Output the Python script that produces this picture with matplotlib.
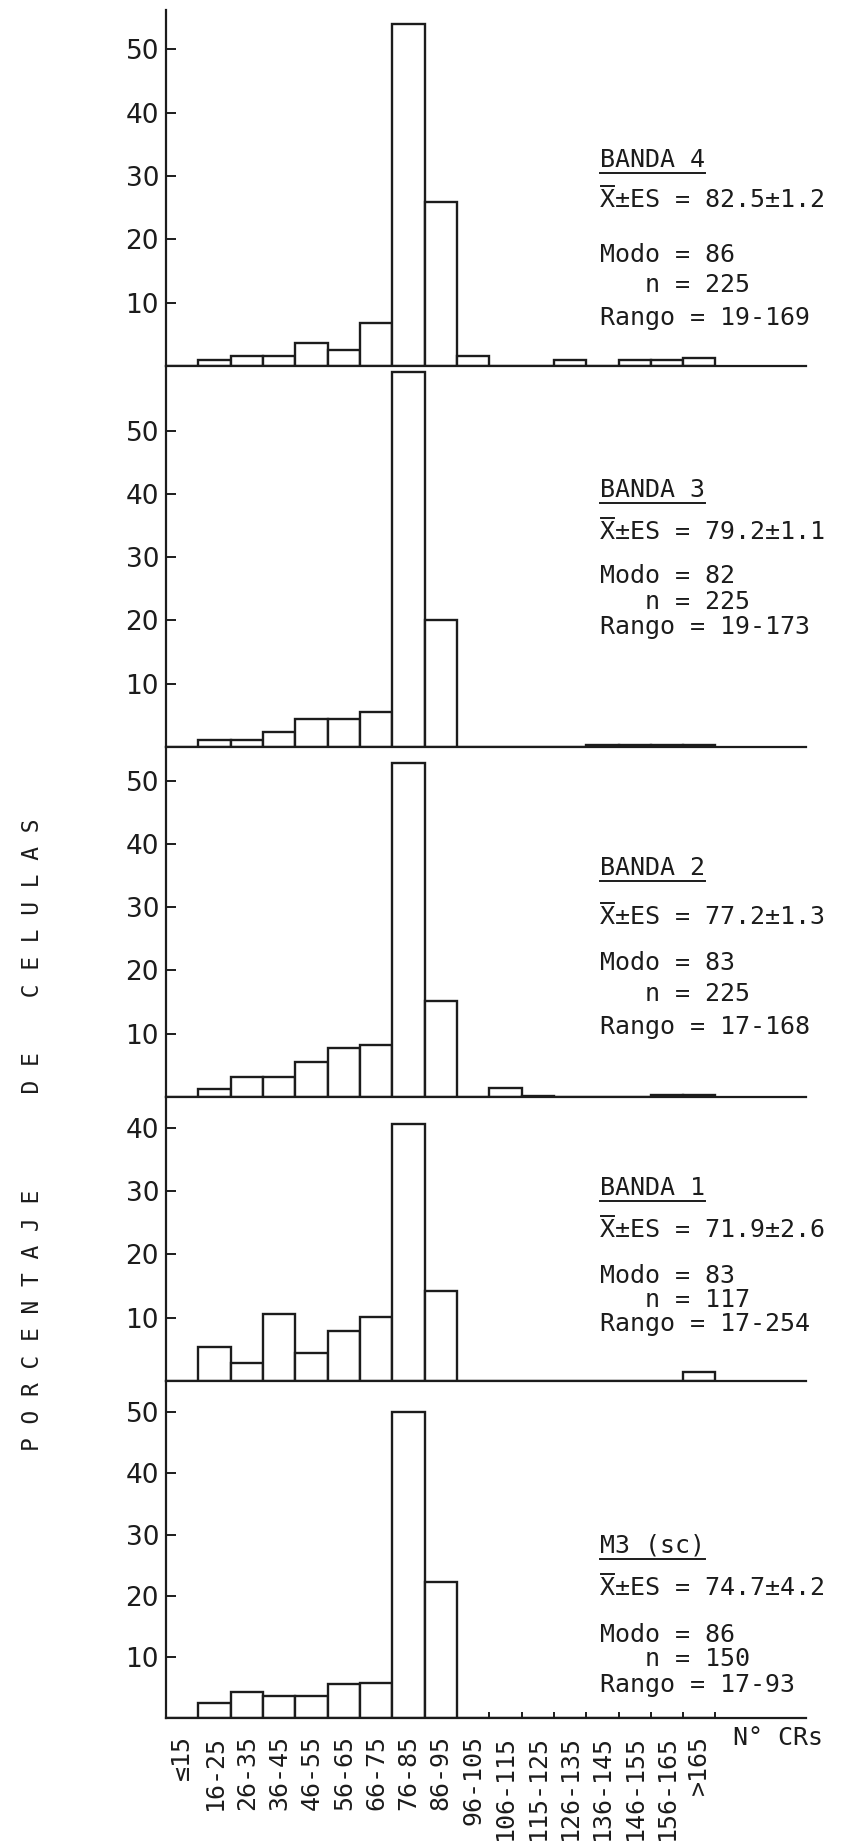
import matplotlib
matplotlib.use("Agg")
import matplotlib.pyplot as plt
from matplotlib.lines import Line2D

# class intervals (number of CRs per cell)
categories = ["≤15", "16-25", "26-35", "36-45", "46-55", "56-65", "66-75",
              "76-85", "86-95", "96-105", "106-115", "115-125", "126-135",
              "136-145", "146-155", "156-165", ">165"]

# percentage of cells per interval
banda4 = [0, 0.9, 1.6, 1.6, 3.7, 2.6, 6.8, 54.0, 25.9, 1.6, 0, 0, 0.9, 0, 0.9, 0.9, 1.3]
banda3 = [0, 1.1, 1.1, 2.3, 4.4, 4.4, 5.6, 59.3, 20.0, 0, 0, 0, 0, 0.3, 0.3, 0.3, 0.3]
banda2 = [0, 1.2, 3.2, 3.1, 5.5, 7.7, 8.2, 52.8, 15.2, 0, 1.4, 0.2, 0, 0, 0, 0.3, 0.3]
banda1 = [0, 5.4, 2.9, 10.6, 4.4, 7.9, 10.1, 40.7, 14.2, 0, 0, 0, 0, 0, 0, 0, 1.4]
m3 = [0, 2.5, 4.3, 3.6, 3.6, 5.6, 5.7, 50.0, 22.3, 0, 0, 0, 0, 0, 0, 0, 0]

names = ["BANDA 4", "BANDA 3", "BANDA 2", "BANDA 1", "M3 (sc)"]
means = ["82.5±1.2", "79.2±1.1", "77.2±1.3", "71.9±2.6", "74.7±4.2"]
modes = ["86", "82", "83", "83", "86"]
ns = ["225", "225", "225", "117", "150"]
ranges = ["19-169", "19-173", "17-168", "17-254", "17-93"]
series = [banda4, banda3, banda2, banda1, m3]

W, H = 843, 1841
# panel top / bottom in pixels and y-range of each panel
tops = [10, 366, 747, 1097, 1381]
bottoms = [366, 747, 1097, 1381, 1718]
ymax = [56.2, 60.2, 55.3, 44.9, 55.1]
# vertical position (px) of the five text lines of each panel
text_y = [[160, 200, 255, 285, 318],
          [490, 532, 576, 602, 627],
          [868, 917, 963, 994, 1027],
          [1188, 1230, 1276, 1300, 1324],
          [1546, 1588, 1635, 1659, 1685]]

ink = "#1c1c1c"
mono = "DejaVu Sans Mono"
fs = 18
adv = 0.602 * fs * 100 / 72   # character advance of the mono font in px

fig = plt.figure(figsize=(W / 100, H / 100), dpi=100)
fig.patch.set_facecolor("white")


def hline(x0, x1, y):
    # short rule in pixel coordinates (underline / overbar)
    fig.add_artist(Line2D([x0 / W, x1 / W], [1 - y / H, 1 - y / H],
                          transform=fig.transFigure, color=ink, lw=1.4))


left_px, right_px = 166, 806
x = list(range(len(categories)))

for k, vals in enumerate(series):
    ax = fig.add_axes([left_px / W, 1 - bottoms[k] / H,
                       (right_px - left_px) / W, (bottoms[k] - tops[k]) / H])
    ax.bar(x, vals, width=1.0, facecolor="white", edgecolor=ink, linewidth=1.7)
    ax.set_xlim(-0.5, 19.3)
    ax.set_ylim(0, ymax[k])
    for s in ["top", "right"]:
        ax.spines[s].set_visible(False)
    for s in ["left", "bottom"]:
        ax.spines[s].set_linewidth(1.6)
        ax.spines[s].set_color(ink)
    ax.patch.set_alpha(0)

    yt = [t for t in [10, 20, 30, 40, 50] if t < ymax[k]]
    ax.set_yticks(yt)
    ax.set_yticklabels([str(t) for t in yt], fontsize=19, family="DejaVu Sans",
                       color=ink)
    ax.tick_params(axis="y", direction="in", length=7, width=1.4, pad=5, colors=ink)

    if k == len(series) - 1:
        ax.set_xticks(x)
        ax.set_xticklabels(categories, rotation=90, family=mono, fontsize=fs,
                           color=ink, va="top")
        ax.tick_params(axis="x", which="major", length=0, pad=12)
        ax.set_xticks([i + 0.5 for i in x], minor=True)
        ax.tick_params(axis="x", which="minor", direction="in", length=4,
                       width=1.4, colors=ink)
    else:
        ax.set_xticks([])

    # statistics block
    ty = text_y[k]
    tx = 600
    fig.text(tx / W, 1 - ty[0] / H, names[k], family=mono, fontsize=fs, color=ink,
             va="center")
    hline(tx, tx + len(names[k]) * adv, ty[0] + 13)
    fig.text(tx / W, 1 - ty[1] / H, "X±ES = " + means[k], family=mono, fontsize=fs,
             color=ink, va="center")
    hline(tx + 1, tx + adv - 1, ty[1] - 14)
    fig.text(tx / W, 1 - ty[2] / H, "Modo = " + modes[k], family=mono, fontsize=fs,
             color=ink, va="center")
    fig.text(tx / W, 1 - ty[3] / H, "   n = " + ns[k], family=mono, fontsize=fs,
             color=ink, va="center")
    fig.text(tx / W, 1 - ty[4] / H, "Rango = " + ranges[k], family=mono,
             fontsize=fs, color=ink, va="center")

fig.text(733 / W, 1 - 1738 / H, "N° CRs", family=mono, fontsize=fs, color=ink,
         va="center")
fig.text(33 / W, 1 - 1135 / H,
         "P O R C E N T A J E       D E    C E L U L A S",
         family=mono, fontsize=16.5, color=ink, rotation=90, ha="center",
         va="center")

fig.savefig("out.png", dpi=100, facecolor="white")
